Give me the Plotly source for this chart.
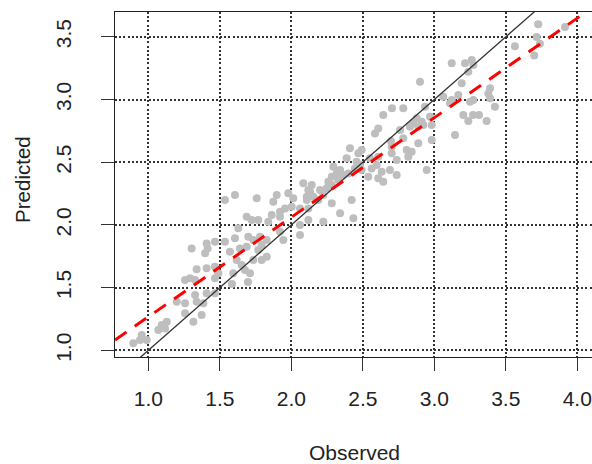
import plotly.graph_objects as go

# Observed / Predicted values
observed = [
    1.303, 1.408, 1.415, 1.397, 1.466, 1.536, 1.338, 1.408, 1.466, 1.490,
    1.292, 1.327, 1.466, 1.199, 1.257, 1.327, 1.338, 1.385, 1.408, 1.466,
    1.257, 1.373, 1.315, 1.094, 1.117, 1.070, 1.129, 0.954, 0.942, 0.895,
    0.989, 1.257,
    2.084, 2.131, 2.154, 2.108, 1.606, 1.758, 1.898, 1.536, 1.874, 1.979,
    2.014, 1.956, 1.921, 1.863, 1.921, 2.061, 1.688, 1.723, 1.769, 1.629,
    1.839, 2.061, 2.119, 1.606, 1.699, 1.734, 1.781, 1.828, 1.921, 1.944,
    2.061, 1.641, 1.688, 1.793, 1.769, 1.571, 1.828, 1.793, 1.734, 1.618,
    1.653, 1.676, 1.594, 1.711, 1.697, 1.585,
    2.704, 2.643, 2.608, 2.585, 2.760, 2.697, 2.410, 2.469, 2.492, 2.550,
    2.608, 2.702, 2.737, 2.457, 2.480, 2.445, 2.492, 2.387, 2.294, 2.341,
    2.317, 2.283, 2.364, 2.399, 2.562, 2.597, 2.632, 2.690, 2.538, 2.608,
    2.643, 2.737, 2.259, 2.283, 2.248, 2.329, 2.143, 2.119, 2.201, 2.224,
    2.108, 2.189, 2.422, 2.283, 2.003, 2.119, 2.341, 2.434, 2.224,
    3.122, 3.215, 3.262, 3.273, 3.238, 2.900, 3.192, 3.390, 3.378, 3.168,
    3.063, 3.122, 3.110, 3.273, 3.250, 3.390, 3.424, 2.783, 2.935, 3.271,
    3.313, 3.203, 3.238, 3.366, 2.877, 2.912, 2.923, 2.830, 2.853, 2.970,
    2.982, 2.888, 3.145, 2.783, 2.702, 2.888, 2.982, 2.807, 2.842, 2.818,
    2.947,
    3.727, 3.914, 3.716, 3.739, 3.564, 3.699,
]
predicted = [
    1.813, 1.853, 1.813, 1.774, 1.866, 1.866, 1.646, 1.654, 1.667, 1.614,
    1.574, 1.561, 1.574, 1.388, 1.375, 1.441, 1.388, 1.375, 1.455, 1.455,
    1.295, 1.282, 1.228, 1.202, 1.175, 1.162, 1.228, 1.122, 1.082, 1.056,
    1.082, 1.561,
    2.332, 2.265, 2.225, 2.225, 2.238, 2.212, 2.238, 2.199, 2.185, 2.252,
    2.212, 2.132, 2.105, 2.079, 2.065, 2.132, 2.065, 2.039, 2.039, 1.973,
    2.026, 1.999, 2.039, 1.893, 1.906, 1.880, 1.906, 1.880, 1.946, 1.880,
    1.919, 1.813, 1.826, 1.840, 1.800, 1.786, 1.746, 1.720, 1.720, 1.720,
    1.680, 1.640, 1.614, 1.614, 1.545, 1.529,
    2.930, 2.876, 2.770, 2.730, 2.757, 2.669, 2.611, 2.571, 2.597, 2.531,
    2.544, 2.571, 2.518, 2.504, 2.478, 2.451, 2.438, 2.531, 2.464, 2.438,
    2.411, 2.384, 2.398, 2.411, 2.451, 2.478, 2.424, 2.438, 2.384, 2.372,
    2.344, 2.398, 2.344, 2.318, 2.292, 2.358, 2.318, 2.278, 2.278, 2.238,
    2.199, 2.199, 2.199, 2.172, 2.145, 2.132, 2.093, 2.053, 2.026,
    3.289, 3.289, 3.315, 3.275, 3.222, 3.142, 3.129, 3.089, 3.049, 3.036,
    3.022, 2.996, 2.970, 2.996, 2.982, 3.010, 2.943, 2.930, 2.943, 2.876,
    2.876, 2.876, 2.829, 2.829, 2.850, 2.823, 2.797, 2.783, 2.810, 2.863,
    2.797, 2.783, 2.717, 2.691, 2.624, 2.651, 2.677, 2.597, 2.584, 2.544,
    2.438,
    3.600, 3.578, 3.498, 3.445, 3.424, 3.352,
]

# Fitted regression line (red dashed) and 1:1 reference line
fit_intercept = 0.473
fit_slope = 0.794

x_ticks = [1.0, 1.5, 2.0, 2.5, 3.0, 3.5, 4.0]
x_tick_labels = ["1.0", "1.5", "2.0", "2.5", "3.0", "3.5", "4.0"]
y_ticks = [1.0, 1.5, 2.0, 2.5, 3.0, 3.5]
y_tick_labels = ["1.0", "1.5", "2.0", "2.5", "3.0", "3.5"]

x_range = [0.767, 4.103]
y_range = [0.947, 3.698]

FONT = "Liberation Sans, Arial, sans-serif"

fig = go.Figure()
fig.add_trace(go.Scatter(
    x=observed, y=predicted, mode="markers",
    marker=dict(color="#BEBEBE", size=8, line=dict(width=0)),
    showlegend=False, hoverinfo="skip",
))
fig.add_trace(go.Scatter(
    x=x_range, y=x_range, mode="lines",
    line=dict(color="#333333", width=1.3),
    showlegend=False, hoverinfo="skip",
))
fig.add_trace(go.Scatter(
    x=x_range, y=[fit_intercept + fit_slope * v for v in x_range], mode="lines",
    line=dict(color="#FF0000", width=3, dash="14px,10px"),
    showlegend=False, hoverinfo="skip",
))

axis_common = dict(
    showline=True, linecolor="#222222", linewidth=1.3,
    ticks="outside", ticklen=13, tickwidth=1.4, tickcolor="#333333",
    showgrid=True, gridcolor="#333333", gridwidth=1.6, griddash="2px,2.2px",
    zeroline=False, ticklabeloverflow="allow",
    tickfont=dict(family=FONT, size=21, color="#222222"),
)

fig.update_xaxes(
    range=x_range, tickvals=x_ticks, ticktext=x_tick_labels,
    mirror=True, ticklabelstandoff=10, **axis_common,
)
fig.update_yaxes(
    range=y_range, tickvals=y_ticks, ticktext=y_tick_labels,
    mirror=False, tickangle=-90, ticklabelstandoff=21, **axis_common,
)

fig.add_annotation(
    text="Observed", xref="paper", yref="paper", x=0.503, y=-0.277,
    xanchor="center", yanchor="middle", showarrow=False,
    font=dict(family=FONT, size=21, color="#222222"),
)
fig.add_annotation(
    text="Predicted", xref="paper", yref="paper", x=-0.193, y=0.516,
    xanchor="center", yanchor="middle", showarrow=False, textangle=-90,
    font=dict(family=FONT, size=20.5, color="#222222"),
)

fig.update_layout(
    width=592, height=464,
    margin=dict(l=115, r=0, t=12, b=107),
    paper_bgcolor="white", plot_bgcolor="white",
)

# remove the default page margin so the 592x464 figure fills the window exactly
fig.write_html(
    "out.html",
    config={"displayModeBar": False},
    post_script="document.body.style.margin='0';document.body.style.overflow='hidden';",
)
